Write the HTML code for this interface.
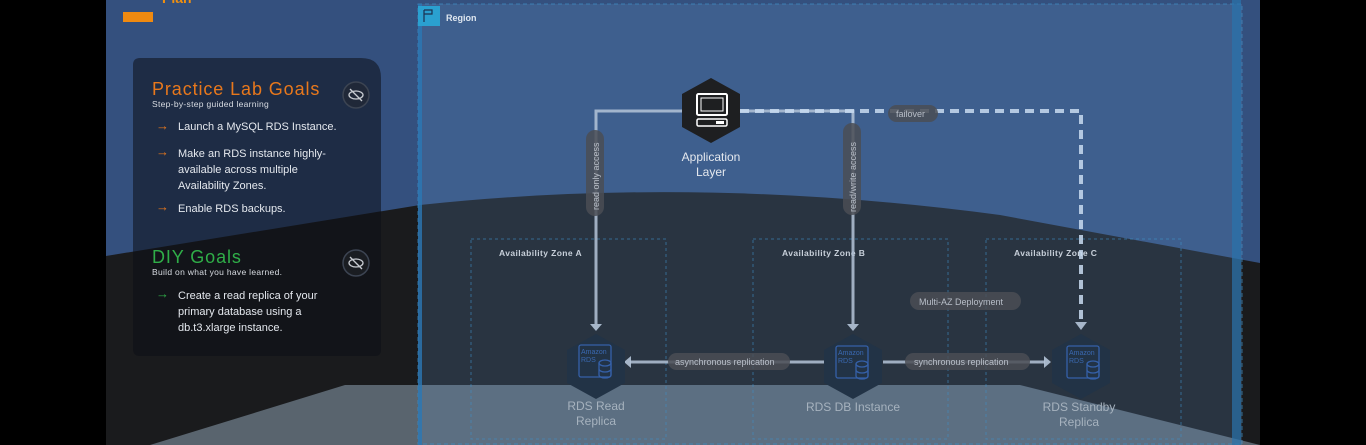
<!DOCTYPE html>
<html><head><meta charset="utf-8"><style>
html,body{margin:0;padding:0;background:#000;}
body{width:1366px;height:445px;overflow:hidden;position:relative;font-family:"Liberation Sans","DejaVu Sans",sans-serif;}
svg{position:absolute;left:0;top:0}
.t{font-family:"Liberation Sans","DejaVu Sans",sans-serif}
</style></head><body>
<svg width="1366" height="445" viewBox="0 0 1366 445" xmlns="http://www.w3.org/2000/svg">
<rect x="0" y="0" width="1366" height="445" fill="#000"/>
<rect x="106" y="0" width="1154" height="445" fill="#34507e"/>
<path d="M106 256 L420 205 Q700 175 1000 215 L1260 263 L1260 445 L106 445 Z" fill="#1a1b1d"/>
<path d="M150 445 L345 385 L1020 385 L1260 445 Z" fill="#59646e"/>
<rect x="418" y="4" width="824" height="441" fill="#6a9bd0" fill-opacity="0.2"/>
<rect x="418" y="4" width="824" height="440" fill="none" stroke="#3d8fc6" stroke-width="1" stroke-dasharray="4 3" stroke-opacity="0.7"/>
<rect x="418" y="4" width="4" height="441" fill="#2a78b5" fill-opacity="0.8"/>
<rect x="1232" y="0" width="9" height="445" fill="#2a74ad" fill-opacity="0.7"/>
<rect x="418" y="6" width="22" height="20" fill="#2aa0d0"/>
<path d="M424 10 v12 M424 10 h8 v4 h-8" stroke="#1b3050" stroke-width="1.2" fill="none"/>
<text x="446" y="21" class="t" font-size="9" font-weight="bold" fill="#dfe7f0">Region</text>
<path d="M123 12 h30 v10 h-30 z" fill="#f08a10"/>
<text x="162" y="3" class="t" font-size="14" font-weight="bold" fill="#f0900f">Plan</text>
<path d="M140 58 H361 Q381 58 381 78 V350 Q381 356 375 356 H140 Q133 356 133 349 V65 Q133 58 140 58 Z" fill="#0c0f16" fill-opacity="0.55"/>
<text x="152" y="95" class="t" font-size="18" fill="#e8781c" letter-spacing="0.9">Practice Lab Goals</text>
<text x="152" y="107" class="t" font-size="8.5" fill="#d8dce2" letter-spacing="0.3">Step-by-step guided learning</text>
<circle cx="356" cy="95" r="13" fill="#202838" stroke="#3c4452" stroke-width="1.5"/>
<ellipse cx="356" cy="95" rx="7" ry="4" fill="none" stroke="#c8ccd2" stroke-width="1.3"/><line x1="350" y1="89" x2="362" y2="101" stroke="#c8ccd2" stroke-width="1.3"/>
<g class="t" font-size="11" fill="#e4e8ee">
<text x="156" y="130" fill="#e8781c" font-size="13">→</text><text x="178" y="130">Launch a MySQL RDS Instance.</text>
<text x="156" y="156" fill="#e8781c" font-size="13">→</text><text x="178" y="157">Make an RDS instance highly-</text>
<text x="178" y="173">available across multiple</text><text x="178" y="189">Availability Zones.</text>
<text x="156" y="211" fill="#e8781c" font-size="13">→</text><text x="178" y="212">Enable RDS backups.</text>
</g>
<text x="152" y="263" class="t" font-size="18" fill="#2fae48" letter-spacing="0.9">DIY Goals</text>
<text x="152" y="275" class="t" font-size="8.5" fill="#d8dce2" letter-spacing="0.3">Build on what you have learned.</text>
<circle cx="356" cy="263" r="13" fill="#1a1d22" stroke="#3c4452" stroke-width="1.5"/>
<ellipse cx="356" cy="263" rx="7" ry="4" fill="none" stroke="#c8ccd2" stroke-width="1.3"/><line x1="350" y1="257" x2="362" y2="269" stroke="#c8ccd2" stroke-width="1.3"/>
<g class="t" font-size="11" fill="#e4e8ee">
<text x="156" y="298" fill="#2fae48" font-size="13">→</text><text x="178" y="299">Create a read replica of your</text>
<text x="178" y="315">primary database using a</text><text x="178" y="331">db.t3.xlarge instance.</text>
</g>
<g fill="none" stroke="#3d8fc6" stroke-opacity="0.6" stroke-dasharray="3 3">
<rect x="471" y="239" width="195" height="200"/>
<rect x="753" y="239" width="195" height="200"/>
<rect x="986" y="239" width="195" height="200"/>
</g>
<g class="t" font-size="8.5" font-weight="bold" fill="#c8d0da" letter-spacing="0.4">
<text x="499" y="256">Availability Zone A</text>
<text x="782" y="256">Availability Zone B</text>
<text x="1014" y="256">Availability Zone C</text>
</g>
<g stroke="#b4c4d8" stroke-width="3" fill="none" stroke-opacity="0.85">
<path d="M690 111 H596 V324"/>
<path d="M730 111 H853 V324"/>
<path d="M630 362 H825"/><path d="M883 362 H1045"/>
</g>
<path d="M740 111 H1081 V322" stroke="#c8daf0" stroke-width="4" fill="none" stroke-dasharray="9 6" stroke-opacity="0.85"/>
<g fill="#b4c4d8" fill-opacity="0.9">
<path d="M590 324 h12 l-6 7 z"/><path d="M847 324 h12 l-6 7 z"/><path d="M1075 322 h12 l-6 8 z"/>
<path d="M631 356 v12 l-7 -6 z"/><path d="M1044 356 v12 l7 -6 z"/>
</g>
<g fill="#4a4d55" fill-opacity="0.85">
<rect x="586" y="130" width="18" height="86" rx="9"/>
<rect x="843" y="123" width="18" height="92" rx="9"/>
<rect x="888" y="105" width="50" height="17" rx="8.5"/>
<rect x="910" y="292" width="111" height="18" rx="9"/>
<rect x="668" y="353" width="122" height="17" rx="8.5"/>
<rect x="905" y="353" width="125" height="17" rx="8.5"/>
</g>
<g class="t" font-size="9" fill="#b8bec8">
<text transform="translate(599,210) rotate(-90)">read only access</text>
<text transform="translate(856,212) rotate(-90)">read/write access</text>
<text x="896" y="117">failover</text>
<text x="919" y="305">Multi-AZ Deployment</text>
<text x="675" y="365">asynchronous replication</text>
<text x="914" y="365">synchronous replication</text>
</g>
<polygon points="711,78 740,94 740,127 711,143 682,127 682,94" fill="#1e1f21"/>
<rect x="697" y="94" width="30" height="21" rx="1.5" fill="none" stroke="#fff" stroke-width="2"/>
<rect x="701" y="98" width="22" height="13" fill="none" stroke="#fff" stroke-width="1"/>
<rect x="697" y="119" width="30" height="7" rx="1.5" fill="none" stroke="#fff" stroke-width="1.5"/>
<rect x="716" y="121" width="8" height="3" fill="#fff"/>
<text x="711" y="161" class="t" font-size="12" fill="#e4e8ee" text-anchor="middle">Application</text>
<text x="711" y="176" class="t" font-size="12" fill="#e4e8ee" text-anchor="middle">Layer</text>
<g>
<polygon points="596,334 625,350 625,383 596,399 567,383 567,350" fill="#223346"/>
<polygon points="853,334 882,350 882,383 853,399 824,383 824,350" fill="#223346"/>
<polygon points="1081,334 1110,350 1110,383 1081,399 1052,383 1052,350" fill="#223346"/>
</g>
<g fill="none" stroke="#3560a8" stroke-width="1.3">
<rect x="579" y="345" width="32" height="32" rx="2"/><rect x="836" y="346" width="32" height="32" rx="2"/><rect x="1067" y="346" width="32" height="32" rx="2"/>
<ellipse cx="605" cy="363" rx="6" ry="3"/><path d="M599 363 v12 a6 3 0 0 0 12 0 v-12 M599 369 a6 3 0 0 0 12 0"/>
<ellipse cx="862" cy="364" rx="6" ry="3"/><path d="M856 364 v12 a6 3 0 0 0 12 0 v-12 M856 370 a6 3 0 0 0 12 0"/>
<ellipse cx="1093" cy="364" rx="6" ry="3"/><path d="M1087 364 v12 a6 3 0 0 0 12 0 v-12 M1087 370 a6 3 0 0 0 12 0"/>
</g>
<g class="t" font-size="7" fill="#3a68b0">
<text x="581" y="354">Amazon</text><text x="581" y="362">RDS</text>
<text x="838" y="355">Amazon</text><text x="838" y="363">RDS</text>
<text x="1069" y="355">Amazon</text><text x="1069" y="363">RDS</text>
</g>
<g class="t" font-size="12" fill="#a6b2be" text-anchor="middle">
<text x="596" y="410">RDS Read</text><text x="596" y="425">Replica</text>
<text x="853" y="411">RDS DB Instance</text>
<text x="1079" y="411">RDS Standby</text><text x="1079" y="426">Replica</text>
</g>
</svg>
</body></html>
